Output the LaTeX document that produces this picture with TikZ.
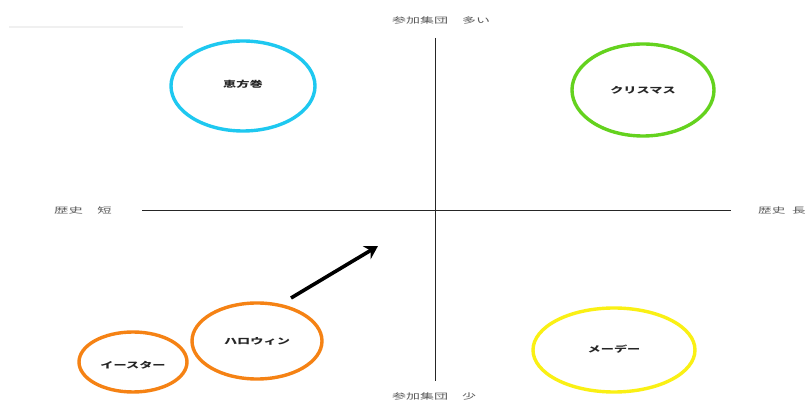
\documentclass[tikz,border=0pt]{standalone}
\usepackage{fontspec}
\usepackage{graphicx}
\newfontfamily\jp{Noto Sans CJK JP}
\usetikzlibrary{arrows.meta}
\newcommand{\wide}[2]{\scalebox{#1}[1]{#2}}
\begin{document}
\begin{tikzpicture}[x=1pt,y=-1pt,
  axis/.style={draw=black!85,line width=0.8pt},
  lab/.style={font=\jp\fontsize{8}{9}\selectfont,text=black!65,inner sep=0pt},
  btxt/.style={font=\jp\bfseries\fontsize{8.5}{10}\selectfont,text=black!85,inner sep=0pt}]
\useasboundingbox (0,0) rectangle (807,403);
\fill[white] (0,0) rectangle (807,403);
\draw[black!6,line width=1.5pt] (9,27) -- (183,27);
% axes
\coordinate (vt) at (435,38);
\coordinate (vb) at (435,381);
\coordinate (hl) at (142,210);
\coordinate (hr) at (731,210);
\draw[axis] (vt) -- (vb);
\draw[axis] (hl) -- (hr);
\node[lab,anchor=west] (top) at (392,20) {\wide{1.75}{参加集団　多い}};
\node[lab,anchor=west] (bot) at (392,396) {\wide{1.75}{参加集団　少}};
\node[lab,anchor=west] (left) at (54,210) {\wide{1.8}{歴史　短}};
\node[lab,anchor=east] (right) at (806,210) {\wide{1.7}{歴史\hspace{4pt}長}};
% bubbles
\draw[color={rgb,255:red,30;green,200;blue,240},line width=3.4pt] (243,86) ellipse [x radius=72,y radius=45];
\node[btxt] (ehou) at (243,84) {\wide{1.55}{恵方巻}};
\draw[color={rgb,255:red,100;green,210;blue,30},line width=3.4pt] (643,90) ellipse [x radius=71,y radius=46];
\node[btxt] (xmas) at (643,90) {\wide{1.55}{クリスマス}};
\draw[color={rgb,255:red,245;green,130;blue,20},line width=3.4pt] (257,341) ellipse [x radius=65,y radius=38];
\node[btxt] (hallo) at (257,341) {\wide{1.55}{ハロウィン}};
\draw[color={rgb,255:red,245;green,130;blue,20},line width=3.4pt] (133,362) ellipse [x radius=54,y radius=30];
\node[btxt] (easter) at (133,365) {\wide{1.55}{イースター}};
\draw[color={rgb,255:red,250;green,240;blue,20},line width=3.4pt] (614,350) ellipse [x radius=81,y radius=42];
\node[btxt] (may) at (614,349) {\wide{1.55}{メーデー}};
% arrow
\coordinate (a0) at (291,298);
\coordinate (a1) at (378,246);
\draw[line width=3.6pt,-{Stealth[length=13pt,width=15pt]}] (a0) -- (a1);
\end{tikzpicture}
\end{document}
